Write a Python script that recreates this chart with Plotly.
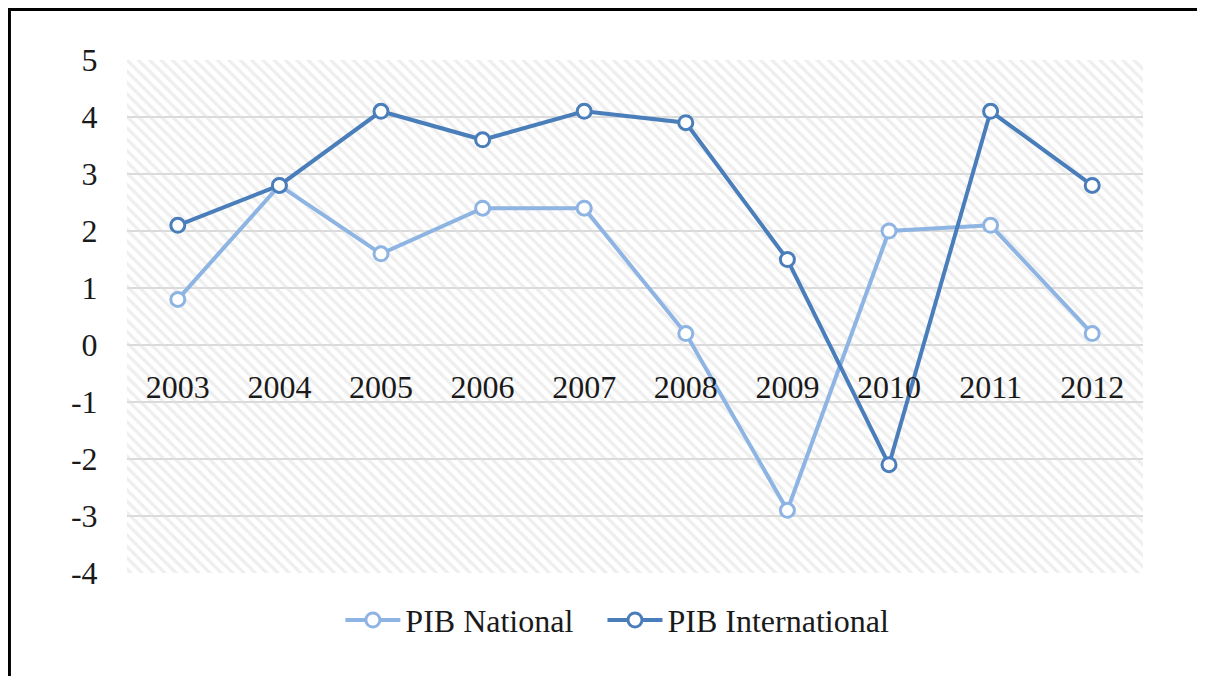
import plotly.graph_objects as go

years = ["2003", "2004", "2005", "2006", "2007", "2008", "2009", "2010", "2011", "2012"]
pib_national = [0.8, 2.8, 1.6, 2.4, 2.4, 0.2, -2.9, 2.0, 2.1, 0.2]
pib_international = [2.1, 2.8, 4.1, 3.6, 4.1, 3.9, 1.5, -2.1, 4.1, 2.8]
y_ticks = [-4, -3, -2, -1, 0, 1, 2, 3, 4, 5]
y_ticktext = ["-4", "-3", "-2", "-1", "0", "1", "2", "3", "4", "5"]

Y_MIN, Y_MAX = -4, 5
FONT = "Liberation Serif"
TEXT = "#1a1a1a"

fig = go.Figure()

# hatched plot background (transparent bar so the grid shows through)
fig.add_trace(go.Bar(
    x=[years[0]], y=[Y_MAX - Y_MIN], base=Y_MIN,
    width=len(years), offset=-0.5,
    marker=dict(color="rgba(0,0,0,0)", line=dict(width=0),
                pattern=dict(shape="\\", fgcolor="#dedede", bgcolor="rgba(0,0,0,0)",
                             size=8, solidity=0.4, fillmode="overlay")),
    showlegend=False, hoverinfo="skip"))

fig.add_trace(go.Scatter(
    x=years, y=pib_national, name="PIB National", mode="lines+markers",
    line=dict(color="#8db4e2", width=4),
    marker=dict(symbol="circle", size=14, color="white",
                line=dict(color="#8db4e2", width=3)),
    legend="legend"))

fig.add_trace(go.Scatter(
    x=years, y=pib_international, name="PIB International", mode="lines+markers",
    line=dict(color="#4a7ebb", width=4),
    marker=dict(symbol="circle", size=14, color="white",
                line=dict(color="#4a7ebb", width=3)),
    legend="legend2"))

zero_pos = (0 - Y_MIN) / (Y_MAX - Y_MIN)
legend_style = dict(orientation="h", xanchor="left", y=-0.092, yanchor="middle",
                    font=dict(family=FONT, size=32, color=TEXT),
                    itemwidth=55, bgcolor="rgba(0,0,0,0)")

fig.update_layout(
    width=1189, height=668,
    margin=dict(l=119, r=54, t=52, b=103),
    paper_bgcolor="white", plot_bgcolor="white",
    font=dict(family=FONT, size=32, color=TEXT),
    barmode="overlay",
    xaxis=dict(type="category", range=[-0.5, len(years) - 0.5],
               anchor="free", position=zero_pos,
               showgrid=False, showline=False, zeroline=False,
               ticks="outside", ticklen=14, tickcolor="rgba(0,0,0,0)",
               tickfont=dict(family=FONT, size=32, color=TEXT)),
    yaxis=dict(range=[Y_MIN, Y_MAX], tickvals=y_ticks, ticktext=y_ticktext,
               showgrid=True, gridcolor="#dadada", gridwidth=1.5,
               zeroline=False, showline=False,
               ticks="outside", ticklen=22, tickcolor="rgba(0,0,0,0)",
               tickfont=dict(family=FONT, size=32, color=TEXT)),
    legend=dict(x=0.21, **legend_style),
    legend2=dict(x=0.468, **legend_style),
    shapes=[dict(type="rect", xref="paper", yref="paper",
                 x0=-0.1157, x1=1.1, y0=-0.3, y1=1.0984,
                 line=dict(color="black", width=3), layer="above")],
)

fig.write_html("out.html")
